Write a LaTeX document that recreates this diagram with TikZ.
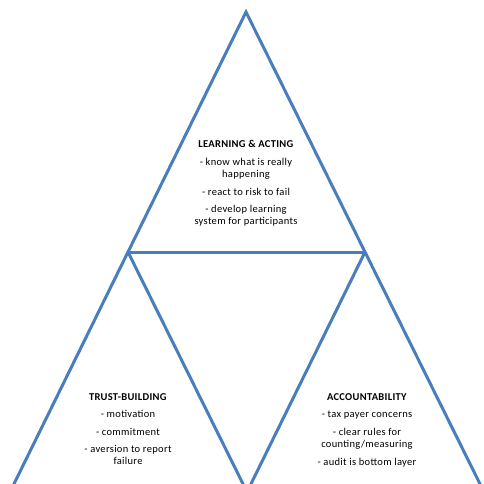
\documentclass[tikz,border=0pt]{standalone}
\usepackage{fontspec}
\setmainfont{Carlito}[LetterSpace=3]
\definecolor{edgeblue}{HTML}{4A7EBB}
\begin{document}
\begin{tikzpicture}[x=1pt,y=-1pt,
  edgeline/.style={draw=edgeblue,line width=3pt,line join=miter},
  txt/.style={align=center,inner sep=0pt,anchor=north,font=\fontsize{10.5}{12}\selectfont}]
\useasboundingbox (0,0) rectangle (483,484);
\fill[white] (0,0) rectangle (483,484);
\begin{scope}
\clip (0,0) rectangle (483,484);
\coordinate (apex) at (246,12);
\coordinate (ml) at (128,252);
\coordinate (mr) at (365,252);
\coordinate (bl) at (10,492);
\coordinate (bm) at (247,492);
\coordinate (br) at (484,492);
\draw[edgeline] (bl) -- (apex) -- (br);
\draw[edgeline] (ml) -- (mr);
\draw[edgeline] (ml) -- (bm) -- (mr);
\end{scope}
\node[txt] (learn) at (246,140) {\textbf{LEARNING \& ACTING}\\[6pt] - know what is really\\ happening\\[6pt] - react to risk to fail\\[5pt] - develop learning\\ system for participants};
\node[txt] (trust) at (128,393) {\textbf{TRUST-BUILDING}\\[5pt] - motivation\\[6pt] - commitment\\[5pt] - aversion to report\\ failure};
\node[txt] (acc) at (367,393) {\textbf{ACCOUNTABILITY}\\[5pt] - tax payer concerns\\[6pt] - clear rules for\\ counting/measuring\\[6pt] - audit is bottom layer};
\end{tikzpicture}
\end{document}
